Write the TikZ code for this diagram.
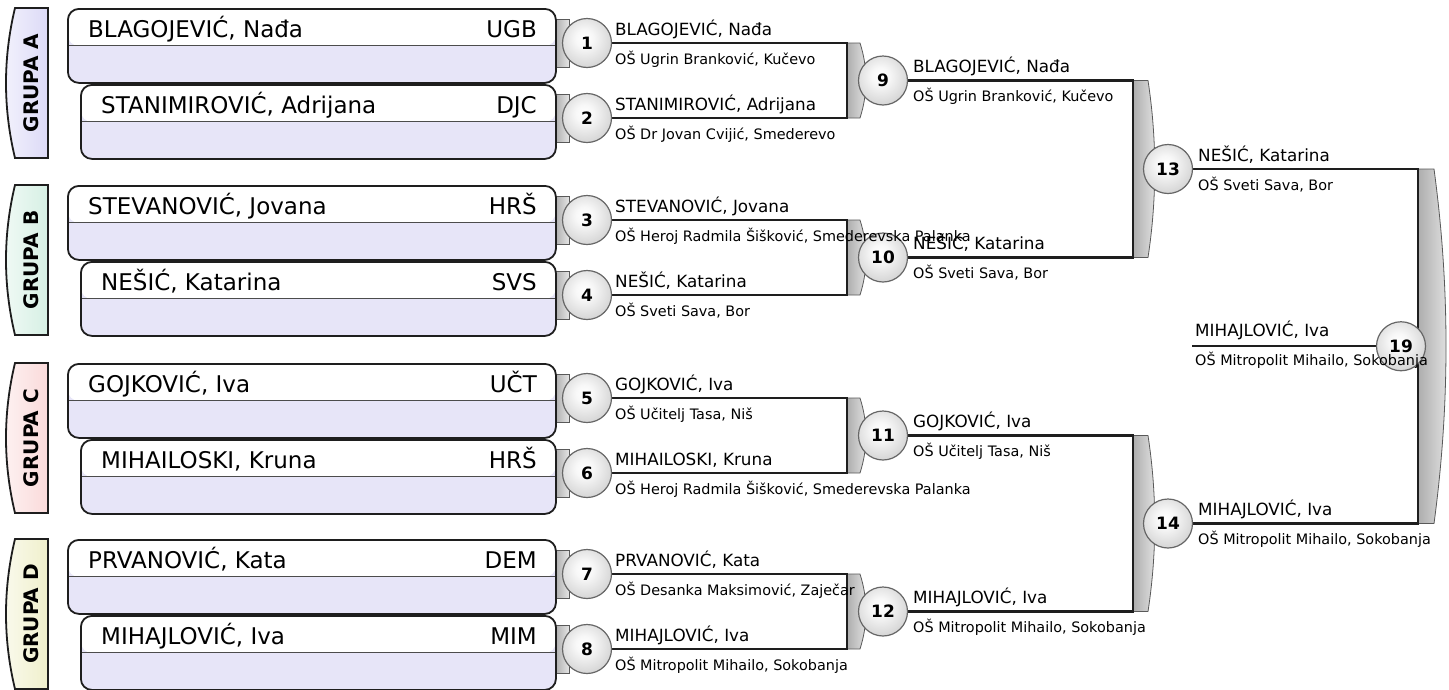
\documentclass[tikz,border=0pt]{standalone}
\usepackage{fontspec}
\setmainfont{DejaVu Sans}
\usetikzlibrary{calc}
\pgfdeclarelayer{bg}
\pgfsetlayers{bg,main}
\definecolor{lav}{HTML}{E7E5F8}
\definecolor{grpA}{HTML}{DCDAF7}
\definecolor{grpB}{HTML}{D6F0E4}
\definecolor{grpC}{HTML}{FADADA}
\definecolor{grpD}{HTML}{F0F0CC}
\definecolor{linec}{HTML}{1E1E1E}
\pgfdeclareradialshading{mball}{\pgfpoint{-3bp}{5bp}}{color(0bp)=(white); color(9bp)=(white!97!black); color(28bp)=(black!16); color(44bp)=(black!30); color(50bp)=(black!45); color(100bp)=(black!45)}
\tikzset{
 pbox/.style={draw=linec, line width=1.8pt, rounded corners=11pt, fill=lav, anchor=north west,
   minimum height=74pt, inner sep=0pt,
   path picture={\fill[white] (path picture bounding box.north west) rectangle (path picture bounding box.east);
     \draw[line width=1pt, black!70] (path picture bounding box.west) -- (path picture bounding box.east);}},
 bigname/.style={anchor=base west, inner sep=0pt, font=\fontsize{23}{26}\selectfont},
 bigcode/.style={anchor=base east, inner sep=0pt, font=\fontsize{23}{26}\selectfont},
 match/.style={circle, draw=black!60, line width=1.2pt, minimum size=49pt, inner sep=0pt,
   shading=mball, font=\fontsize{17}{19}\selectfont\bfseries},
 wname/.style={anchor=base west, inner sep=0pt, font=\fontsize{16.8}{19}\selectfont},
 wschool/.style={anchor=base west, inner sep=0pt, font=\fontsize{14.4}{16}\selectfont},
 bline/.style={draw=linec, line width=2.4pt},
 gtab/.style={draw=black!65, line width=0.8pt, left color=black!32, right color=black!10},
 grp/.style={draw=linec, line width=1.8pt},
 grptext/.style={rotate=90, inner sep=0pt, font=\fontsize{20}{22}\selectfont\bfseries}
}
\newcommand\wlab[4]{%
 \node[wname] (#1n) at ([xshift=#2pt,yshift=8pt]#1.center) {#3};
 \node[wschool] (#1s) at ([xshift=#2pt,yshift=-21pt]#1.center) {#4};}
\begin{document}
\begin{tikzpicture}[x=1pt,y=-1pt]
\useasboundingbox (0,0) rectangle (1449,689);
% group tabs
\foreach \T/\c/\L in {8/grpA/A,185/grpB/B,363/grpC/C,539/grpD/D}{
  \path[grp, left color=\c!35!white, right color=\c] (48,\T) -- (15,\T) .. controls (3,\T+50) and (3,\T+100) .. (15,\T+150) -- (48,\T+150) -- cycle;
  \node[grptext] (g\L) at (31,\T+75) {GRUPA \L};
}
% player boxes
\node[pbox, minimum width=488pt] (p1) at (67,8) {};
\node[pbox, minimum width=475pt] (p2) at (80,84) {};
\node[pbox, minimum width=488pt] (p3) at (67,185) {};
\node[pbox, minimum width=475pt] (p4) at (80,261) {};
\node[pbox, minimum width=488pt] (p5) at (67,363) {};
\node[pbox, minimum width=475pt] (p6) at (80,439) {};
\node[pbox, minimum width=488pt] (p7) at (67,539) {};
\node[pbox, minimum width=475pt] (p8) at (80,615) {};
\node[bigname] (p1n) at (88,37) {BLAGOJEVIĆ, Nađa};
\node[bigcode] (p1c) at (537,37) {UGB};
\node[bigname] (p2n) at (101,113) {STANIMIROVIĆ, Adrijana};
\node[bigcode] (p2c) at (537,113) {DJC};
\node[bigname] (p3n) at (88,214) {STEVANOVIĆ, Jovana};
\node[bigcode] (p3c) at (537,214) {HRŠ};
\node[bigname] (p4n) at (101,290) {NEŠIĆ, Katarina};
\node[bigcode] (p4c) at (537,290) {SVS};
\node[bigname] (p5n) at (88,392) {GOJKOVIĆ, Iva};
\node[bigcode] (p5c) at (537,392) {UČT};
\node[bigname] (p6n) at (101,468) {MIHAILOSKI, Kruna};
\node[bigcode] (p6c) at (537,468) {HRŠ};
\node[bigname] (p7n) at (88,568) {PRVANOVIĆ, Kata};
\node[bigcode] (p7c) at (537,568) {DEM};
\node[bigname] (p8n) at (101,644) {MIHAJLOVIĆ, Iva};
\node[bigcode] (p8c) at (537,644) {MIM};
% matches
\node[match] (m1) at (587,43) {1};
\node[match] (m2) at (587,118) {2};
\node[match] (m3) at (587,220) {3};
\node[match] (m4) at (587,295) {4};
\node[match] (m5) at (587,398) {5};
\node[match] (m6) at (587,473) {6};
\node[match] (m7) at (587,574) {7};
\node[match] (m8) at (587,649) {8};
\node[match] (m9) at (883,80.5) {9};
\node[match] (m10) at (883,257.5) {10};
\node[match] (m11) at (883,435.5) {11};
\node[match] (m12) at (883,611.5) {12};
\node[match] (m13) at (1168,169) {13};
\node[match] (m14) at (1168,523.5) {14};
\node[match] (m19) at (1401,346.25) {19};
\coordinate (k9) at ([xshift=-36pt]m9.center);
\coordinate (k10) at ([xshift=-36pt]m10.center);
\coordinate (k11) at ([xshift=-36pt]m11.center);
\coordinate (k12) at ([xshift=-36pt]m12.center);
\coordinate (k13) at ([xshift=-35pt]m13.center);
\coordinate (k14) at ([xshift=-35pt]m14.center);
\coordinate (k19) at ([xshift=17pt]m19.center);
\coordinate (f19) at ([xshift=-209pt]m19.center);
\begin{pgfonlayer}{bg}
  \foreach \m in {m1,m2,m3,m4,m5,m6,m7,m8}{
    \path[gtab] ([xshift=-32pt,yshift=24pt]\m.center) rectangle ([xshift=-18pt,yshift=-24pt]\m.center);
  }
  \path[gtab] (847,43) -- (860,43) .. controls (868,68) and (868,93) .. (860,118) -- (847,118) -- cycle;
  \path[gtab] (847,220) -- (860,220) .. controls (868,245) and (868,270) .. (860,295) -- (847,295) -- cycle;
  \path[gtab] (847,398) -- (860,398) .. controls (868,423) and (868,448) .. (860,473) -- (847,473) -- cycle;
  \path[gtab] (847,574) -- (860,574) .. controls (868,599) and (868,624) .. (860,649) -- (847,649) -- cycle;
  \path[gtab] (1133,80.5) -- (1148,80.5) .. controls (1157,139.5) and (1157,198.5) .. (1148,257.5) -- (1133,257.5) -- cycle;
  \path[gtab] (1133,435.5) -- (1148,435.5) .. controls (1157,494.5) and (1157,552.5) .. (1148,611.5) -- (1133,611.5) -- cycle;
  \path[gtab] (1418,169) -- (1434,169) .. controls (1450,287) and (1450,405) .. (1434,523.5) -- (1418,523.5) -- cycle;
  \draw[bline] (m1.east) -| (k9) |- (m2.east);
  \draw[bline] (m3.east) -| (k10) |- (m4.east);
  \draw[bline] (m5.east) -| (k11) |- (m6.east);
  \draw[bline] (m7.east) -| (k12) |- (m8.east);
  \draw[bline] (m9.east) -| (k13) |- (m10.east);
  \draw[bline] (m11.east) -| (k14) |- (m12.east);
  \draw[bline] (m13.east) -| (k19) |- (m14.east);
  \draw[bline] (f19) -- (m19);
\end{pgfonlayer}
% labels
\wlab{m1}{28}{BLAGOJEVIĆ, Nađa}{OŠ Ugrin Branković, Kučevo}
\wlab{m2}{28}{STANIMIROVIĆ, Adrijana}{OŠ Dr Jovan Cvijić, Smederevo}
\wlab{m3}{28}{STEVANOVIĆ, Jovana}{OŠ Heroj Radmila Šišković, Smederevska Palanka}
\wlab{m4}{28}{NEŠIĆ, Katarina}{OŠ Sveti Sava, Bor}
\wlab{m5}{28}{GOJKOVIĆ, Iva}{OŠ Učitelj Tasa, Niš}
\wlab{m6}{28}{MIHAILOSKI, Kruna}{OŠ Heroj Radmila Šišković, Smederevska Palanka}
\wlab{m7}{28}{PRVANOVIĆ, Kata}{OŠ Desanka Maksimović, Zaječar}
\wlab{m8}{28}{MIHAJLOVIĆ, Iva}{OŠ Mitropolit Mihailo, Sokobanja}
\wlab{m9}{30}{BLAGOJEVIĆ, Nađa}{OŠ Ugrin Branković, Kučevo}
\wlab{m10}{30}{NEŠIĆ, Katarina}{OŠ Sveti Sava, Bor}
\wlab{m11}{30}{GOJKOVIĆ, Iva}{OŠ Učitelj Tasa, Niš}
\wlab{m12}{30}{MIHAJLOVIĆ, Iva}{OŠ Mitropolit Mihailo, Sokobanja}
\wlab{m13}{30}{NEŠIĆ, Katarina}{OŠ Sveti Sava, Bor}
\wlab{m14}{30}{MIHAJLOVIĆ, Iva}{OŠ Mitropolit Mihailo, Sokobanja}
\node[wname] (m19n) at ([xshift=-206pt,yshift=10pt]m19.center) {MIHAJLOVIĆ, Iva};
\node[wschool] (m19s) at ([xshift=-206pt,yshift=-19pt]m19.center) {OŠ Mitropolit Mihailo, Sokobanja};
\end{tikzpicture}
\end{document}
